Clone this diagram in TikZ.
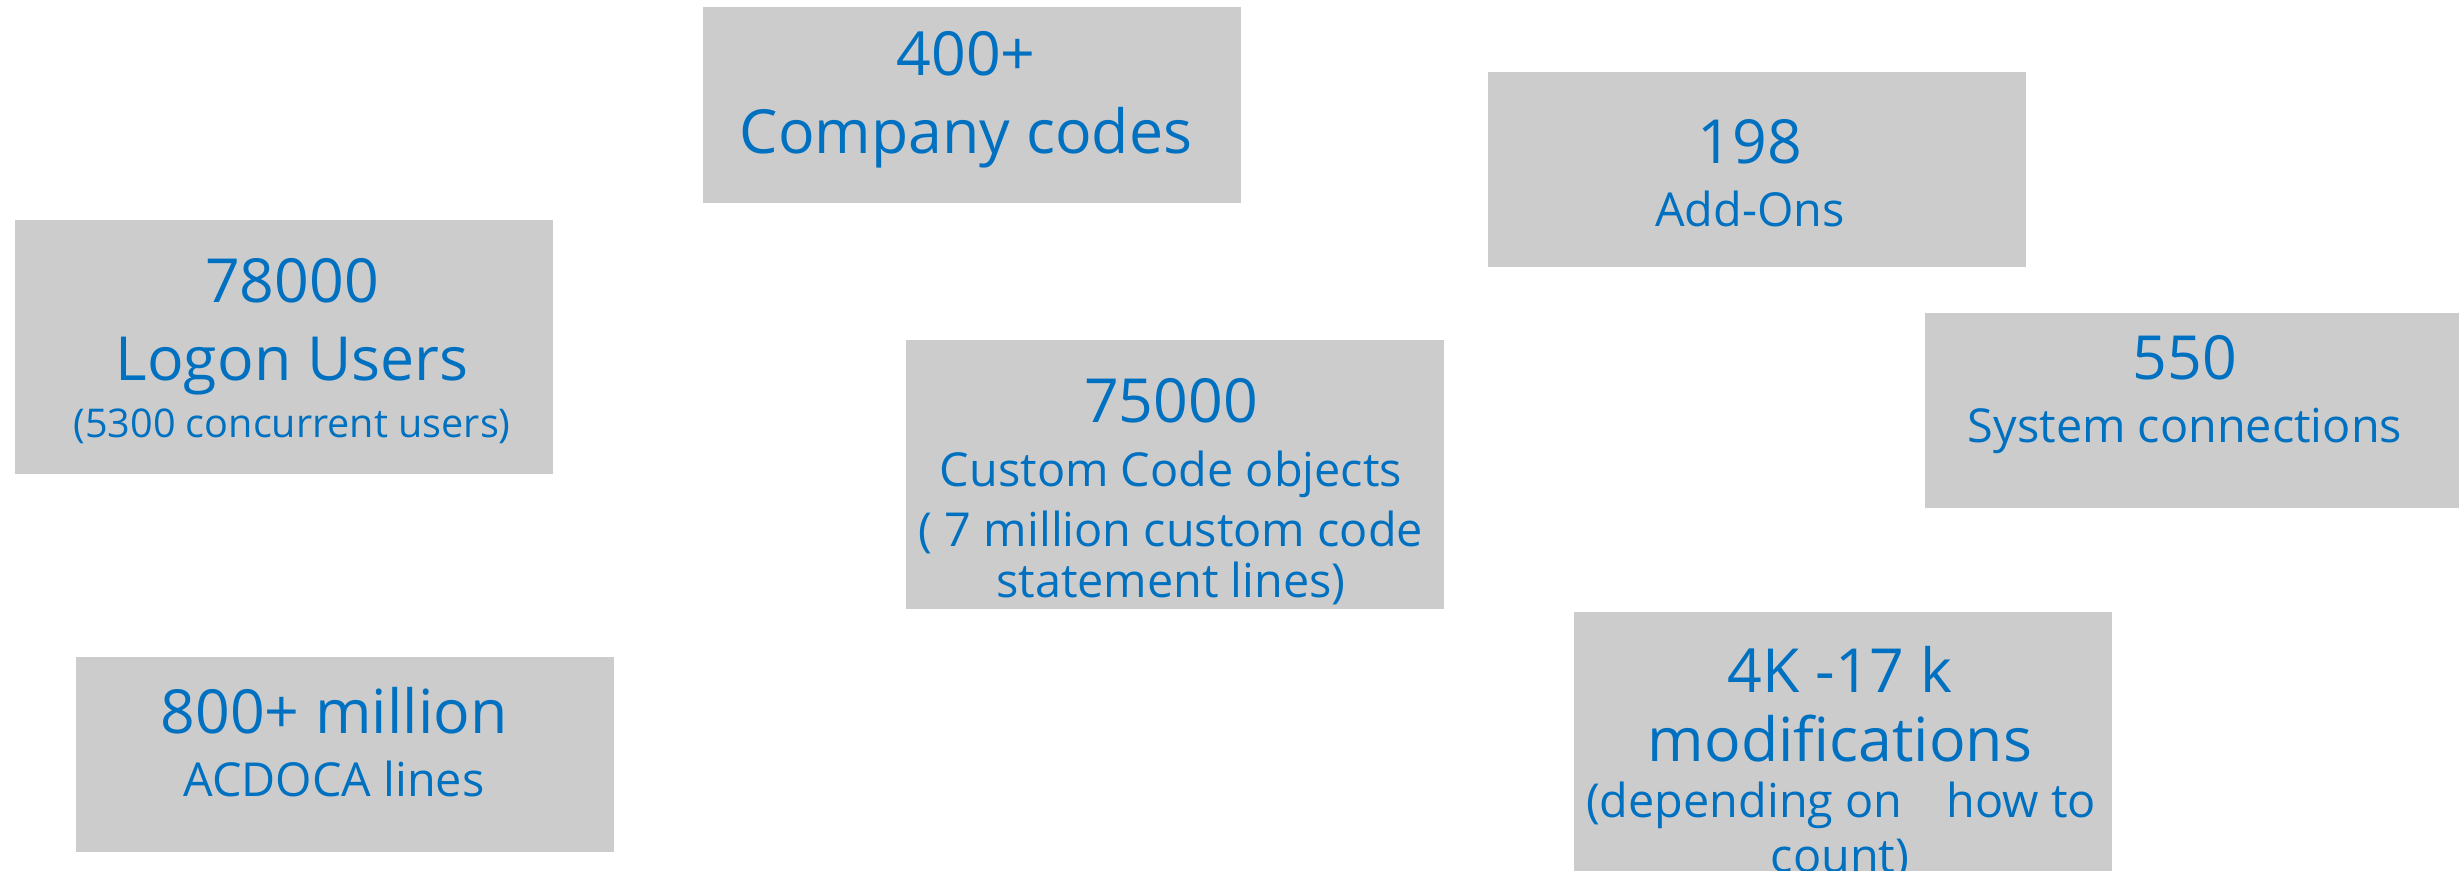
\documentclass[tikz,border=0pt]{standalone}
\usepackage{fontspec}
\setmainfont{Open Sans}
\definecolor{boxgray}{RGB}{204,204,204}
\definecolor{txtblue}{RGB}{0,112,192}
\newcommand{\bigf}{\fontsize{30.4pt}{37pt}\selectfont}
\newcommand{\medf}{\fontsize{23.4pt}{29pt}\selectfont}
\newcommand{\smlf}{\fontsize{19.8pt}{24pt}\selectfont}
\begin{document}
\begin{tikzpicture}[x=0.5pt,y=-0.5pt,
  box/.style={fill=boxgray,draw=none,inner sep=0,anchor=north west,minimum width=269pt},
  txt/.style={text=txtblue,anchor=base,inner sep=0},
  bigt/.style={txt,font=\bigf},
  medt/.style={txt,font=\medf},
  smlt/.style={txt,font=\smlf}]
\clip (0,0) rectangle (2459,871);
\fill[white] (0,0) rectangle (2459,871);
% boxes
\node[box,minimum height=98pt] (b1) at (703,7) {};
\node[box,minimum height=97.5pt] (b2) at (1488,72) {};
\node[box,minimum height=127pt] (b3) at (15,220) {};
\node[box,minimum height=134.5pt] (b4) at (906,340) {};
\node[box,minimum height=97.5pt,minimum width=280pt] (b5) at (1925,313) {};
\node[box,minimum height=97.5pt] (b6) at (76,657) {};
\node[box,minimum height=160pt] (b7) at (1574,612) {};
% texts
\node[bigt] (t1a) at (966,76) {400+};
\node[bigt] (t1b) at (966,154) {Company codes};
\node[bigt] (t2a) at (1750,164) {198};
\node[medt] (t2b) at (1750,227) {Add-Ons};
\node[bigt] (t3a) at (292,303) {78000};
\node[bigt] (t3b) at (292,381) {Logon Users};
\node[smlt] (t3c) at (292,438) {(5300 concurrent users)};
\node[bigt] (t4a) at (1171,423) {75000};
\node[medt] (t4b) at (1171,487) {Custom Code objects};
\node[medt] (t4c) at (1171,546) {( 7 million custom code};
\node[medt] (t4d) at (1171,597) {statement lines)};
\node[bigt] (t5a) at (2185,380) {550};
\node[medt] (t5b) at (2185,443) {System connections};
\node[bigt] (t6a) at (334,733) {800+ million};
\node[medt] (t6b) at (334,796) {ACDOCA lines};
\node[bigt] (t7a) at (1840,692) {4K -17 k};
\node[bigt] (t7b) at (1840,761) {modifications};
\node[medt] (t7c) at (1841,817) {(depending on\hspace*{22pt}how to};
\node[medt] (t7d) at (1840,872) {count)};
\end{tikzpicture}
\end{document}
